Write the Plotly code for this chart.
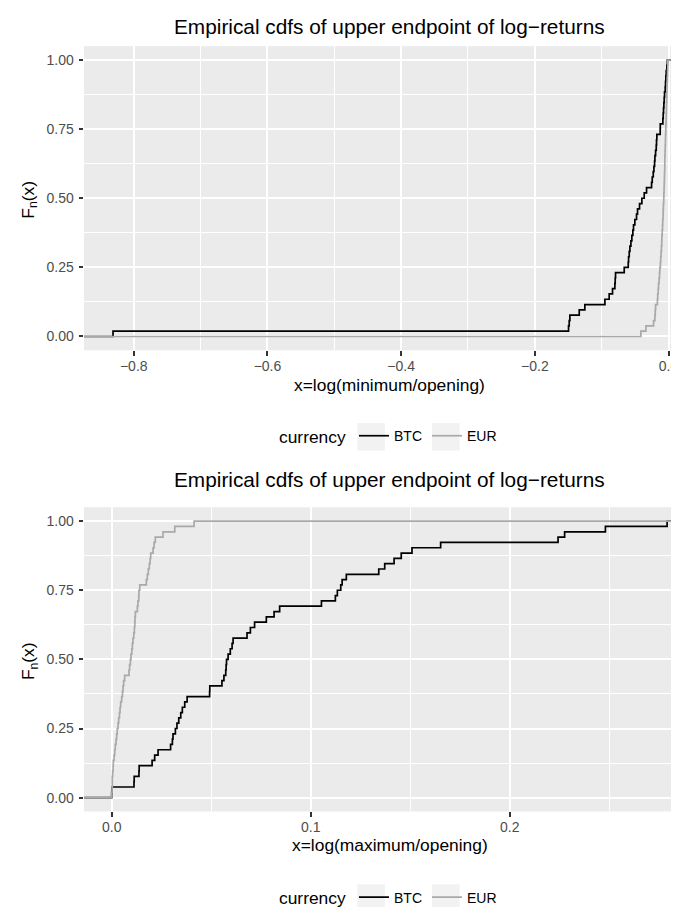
import plotly.graph_objects as go

# ---------------- data ----------------
currencies = ["BTC", "EUR"]

# x = log(minimum/opening), one value per day
btc_min = [-0.8310, -0.1496, -0.1486, -0.1476, -0.1336, -0.1252, -0.0952, -0.0888,
           -0.0838, -0.0803, -0.0798, -0.0793, -0.0663, -0.0603, -0.0598, -0.0588,
           -0.0578, -0.0563, -0.0549, -0.0534, -0.0524, -0.0504, -0.0479, -0.0464,
           -0.0434, -0.0399, -0.0364, -0.0329, -0.0254, -0.0244, -0.0229, -0.0219,
           -0.0209, -0.0204, -0.0194, -0.0184, -0.0180, -0.0175, -0.0125, -0.0124,
           -0.0085, -0.0080, -0.0075, -0.0070, -0.0065, -0.0060, -0.0050, -0.0045,
           -0.0040, -0.0035, -0.0025, -0.0018]
eur_min = [-0.0414, -0.0339, -0.0224, -0.0204, -0.0199, -0.0194, -0.0167, -0.0162,
           -0.0155, -0.0150, -0.0142, -0.0135, -0.0130, -0.0122, -0.0117, -0.0112,
           -0.0107, -0.0102, -0.0100, -0.0095, -0.0090, -0.0087, -0.0082, -0.0080,
           -0.0077, -0.0072, -0.0070, -0.0067, -0.0065, -0.0062, -0.0060, -0.0057,
           -0.0056, -0.0055, -0.0052, -0.0050, -0.0047, -0.0045, -0.0042, -0.0040,
           -0.0037, -0.0035, -0.0032, -0.0030, -0.0027, -0.0025, -0.0022, -0.0020,
           -0.0017, -0.0015, -0.0012, -0.0010]

# x = log(maximum/opening)
btc_max = [0.0000, 0.0002, 0.0112, 0.0113, 0.0137, 0.0138, 0.0203, 0.0216,
           0.0233, 0.0296, 0.0305, 0.0308, 0.0320, 0.0328, 0.0337, 0.0347,
           0.0355, 0.0367, 0.0379, 0.0492, 0.0493, 0.0554, 0.0564, 0.0573,
           0.0575, 0.0577, 0.0585, 0.0596, 0.0605, 0.0610, 0.0680, 0.0697,
           0.0718, 0.0777, 0.0816, 0.0844, 0.1054, 0.1124, 0.1134, 0.1151,
           0.1158, 0.1179, 0.1342, 0.1372, 0.1419, 0.1455, 0.1509, 0.1653,
           0.2243, 0.2276, 0.2481, 0.2791]
eur_max = [0.0000, 0.0002, 0.0003, 0.0003, 0.0005, 0.0007, 0.0008, 0.0012,
           0.0015, 0.0018, 0.0022, 0.0025, 0.0028, 0.0032, 0.0035, 0.0039,
           0.0042, 0.0045, 0.0050, 0.0054, 0.0057, 0.0060, 0.0065, 0.0087,
           0.0090, 0.0094, 0.0097, 0.0101, 0.0104, 0.0107, 0.0111, 0.0114,
           0.0116, 0.0117, 0.0119, 0.0129, 0.0132, 0.0136, 0.0137, 0.0141,
           0.0174, 0.0179, 0.0184, 0.0189, 0.0193, 0.0196, 0.0208, 0.0213,
           0.0219, 0.0258, 0.0317, 0.0414]

top_x_ticks = [-0.8, -0.6, -0.4, -0.2, 0.0]
bottom_x_ticks = [0.0, 0.1, 0.2]
y_ticks = [0.0, 0.25, 0.5, 0.75, 1.0]

title_text = "Empirical cdfs of upper endpoint of log\u2212returns"
top_xlabel = "x=log(minimum/opening)"
bottom_xlabel = "x=log(maximum/opening)"
ylabel = "F<sub>n</sub>(x)"
legend_title = "currency"

# ---------------- styling ----------------
W, H = 679, 907
FONT = "Liberation Sans, Arial, Helvetica, sans-serif"
COLORS = {"BTC": "#000000", "EUR": "#A9A9A9"}
LW = 1.7


def ecdf_xy(vals):
    s = sorted(vals)
    n = len(s)
    xs = [-10.0] + s + [10.0]          # stat_ecdf pads with -Inf / +Inf
    ys = [0.0] + [(i + 1) / n for i in range(n)] + [1.0]
    return xs, ys


fig = go.Figure()
for series, xa, ya, lg in [
    ({"BTC": btc_min, "EUR": eur_min}, "x", "y", "legend"),
    ({"BTC": btc_max, "EUR": eur_max}, "x2", "y2", "legend2"),
]:
    for cur in currencies:
        xs, ys = ecdf_xy(series[cur])
        fig.add_trace(go.Scatter(
            x=xs, y=ys, mode="lines", name=cur,
            line=dict(shape="hv", color=COLORS[cur], width=LW),
            xaxis=xa, yaxis=ya, legend=lg, hoverinfo="skip",
        ))


def py2paper(py):
    return 1 - py / H


axis_common = dict(
    showline=False, zeroline=False, ticks="outside", ticklen=4.4, tickwidth=1.7,
    tickcolor="#333333", tickfont=dict(family=FONT, size=14, color="#4D4D4D"),
    showgrid=True, gridcolor="white", gridwidth=1.7,
)
minor_common = dict(showgrid=True, gridcolor="white", gridwidth=0.85, tick0=0)
xdom = [76 / W, 1.0]

fig.update_layout(
    width=W, height=H, margin=dict(l=0, r=0, t=0, b=0),
    paper_bgcolor="white", plot_bgcolor="#EBEBEB",
    font=dict(family=FONT, color="black"),
    xaxis=dict(axis_common, domain=xdom, anchor="y", range=[-0.8744, 0.0276],
               tickvals=top_x_ticks, tickformat=".1f", ticklabelstandoff=-2,
               minor=dict(minor_common, dtick=0.1)),
    yaxis=dict(axis_common, domain=[py2paper(344.2), py2paper(38.4)], anchor="x",
               range=[-0.05, 1.05], tickvals=y_ticks, tickformat=".2f",
               ticklabelstandoff=2, minor=dict(minor_common, dtick=0.125)),
    xaxis2=dict(axis_common, domain=xdom, anchor="y2", range=[-0.01392, 0.2891],
                tickvals=bottom_x_ticks, tickformat=".1f", ticklabelstandoff=-2,
                minor=dict(minor_common, dtick=0.05)),
    yaxis2=dict(axis_common, domain=[py2paper(807.9), py2paper(502.1)], anchor="x2",
                range=[-0.05, 1.05], tickvals=y_ticks, tickformat=".2f",
                ticklabelstandoff=2, minor=dict(minor_common, dtick=0.125)),
)

legend_common = dict(
    orientation="h", xanchor="center", x=381.5 / W, yanchor="middle",
    bgcolor="rgba(0,0,0,0)", font=dict(family=FONT, size=14, color="black"),
    title=dict(text=legend_title, side="left",
               font=dict(family=FONT, size=17.4, color="black")),
    itemclick=False, itemdoubleclick=False,
)
fig.update_layout(
    legend=dict(legend_common, y=py2paper(431)),
    legend2=dict(legend_common, y=py2paper(895)),
)

# grey legend-key backgrounds (ggplot legend.key fill grey95)
shapes = []
for cy in (431.2, 895.0):
    for x0 in (349.3, 424.0):
        shapes.append(dict(type="rect", xref="paper", yref="paper",
                           x0=x0 / W, x1=(x0 + 27.6) / W,
                           y0=py2paper(cy + 13.8), y1=py2paper(cy - 13.8),
                           fillcolor="#F2F2F2", line=dict(width=0), layer="below"))
fig.update_layout(shapes=shapes)

ann = []
cx = 381.5 / W
for ty in (18.8, 474.3):
    ann.append(dict(text=title_text, x=cx, y=py2paper(ty), xref="paper", yref="paper",
                    xanchor="center", yanchor="middle", showarrow=False,
                    font=dict(family=FONT, size=20.8, color="black")))
for txt, ty in ((top_xlabel, 379.5), (bottom_xlabel, 842.0)):
    ann.append(dict(text=txt, x=cx, y=py2paper(ty), xref="paper", yref="paper",
                    xanchor="center", yanchor="middle", showarrow=False,
                    font=dict(family=FONT, size=17.4, color="black")))
for ty in (193.0, 657.0):
    ann.append(dict(text=ylabel, x=21.7 / W, y=py2paper(ty), xref="paper", yref="paper",
                    xanchor="center", yanchor="middle", textangle=-90, showarrow=False,
                    font=dict(family=FONT, size=17.4, color="black")))
fig.update_layout(annotations=ann)

fig.write_html("out.html")
